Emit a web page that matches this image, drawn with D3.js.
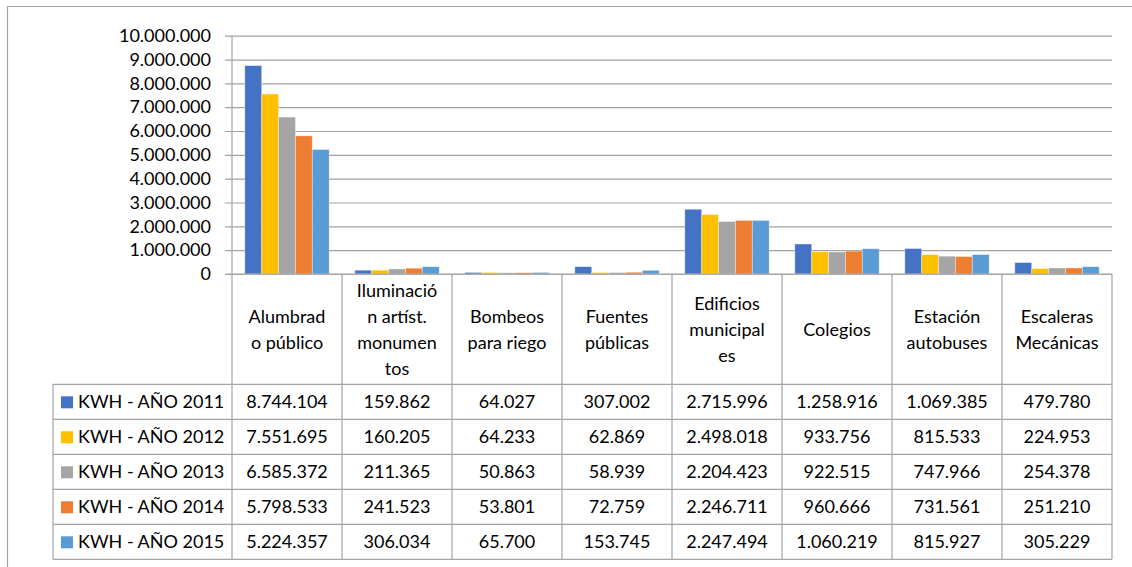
<!DOCTYPE html>
<html>
<head>
<meta charset="utf-8">
<script src="https://cdn.jsdelivr.net/npm/d3@7"></script>
<style>
  body { margin: 0; background: #fff; }
  text { font-family: Lato, "Open Sans", sans-serif; fill: #000; }
</style>
</head>
<body>
<div id="chart"></div>
<script>
// categories (header lines as wrapped in the table)
var categories = [
    ["Alumbrad", "o público"],
    ["Iluminació", "n artíst.", "monumen", "tos"],
    ["Bombeos", "para riego"],
    ["Fuentes", "públicas"],
    ["Edificios", "municipal", "es"],
    ["Colegios"],
    ["Estación", "autobuses"],
    ["Escaleras", "Mecánicas"]
];
var seriesNames = ["KWH - AÑO 2011", "KWH - AÑO 2012", "KWH - AÑO 2013", "KWH - AÑO 2014", "KWH - AÑO 2015"];
var colors = ["#4472C4", "#FFC000", "#A5A5A5", "#ED7D31", "#5B9BD5"];

var kwh2011 = [8744104, 159862, 64027, 307002, 2715996, 1258916, 1069385, 479780];
var kwh2012 = [7551695, 160205, 64233, 62869, 2498018, 933756, 815533, 224953];
var kwh2013 = [6585372, 211365, 50863, 58939, 2204423, 922515, 747966, 254378];
var kwh2014 = [5798533, 241523, 53801, 72759, 2246711, 960666, 731561, 251210];
var kwh2015 = [5224357, 306034, 65700, 153745, 2247494, 1060219, 815927, 305229];
var series = [kwh2011, kwh2012, kwh2013, kwh2014, kwh2015];

var yTicks = [0, 1000000, 2000000, 3000000, 4000000, 5000000, 6000000, 7000000, 8000000, 9000000, 10000000];

var W = 1132, H = 567;
var fontSize = 18;
var lineCol = "#a3a3a3";

var esLocale = d3.formatLocale({ decimal: ",", thousands: ".", grouping: [3], currency: ["", ""] });
var fmt = esLocale.format(",d");

var svg = d3.select("#chart").append("svg")
    .attr("width", W)
    .attr("height", H);

// outer chart border (top + left visible)
svg.append("path")
    .attr("d", "M7.5," + H + "V6.5H" + W)
    .attr("fill", "none")
    .attr("stroke", lineCol)
    .attr("stroke-width", 1.2);

var plotLeft = 232, plotRight = 1112, plotTop = 35.7, plotBottom = 274;
var headerBottom = 384.3, rowH = 35, legendLeft = 53;
var tableBottom = headerBottom + rowH * seriesNames.length;

var x = d3.scaleBand()
    .domain(d3.range(categories.length))
    .range([plotLeft, plotRight])
    .padding(0);

var xs = d3.scaleBand()
    .domain(d3.range(series.length))
    .range([0, x.bandwidth()])
    .paddingInner(0)
    .paddingOuter(0.76);

var y = d3.scaleLinear()
    .domain([0, 10000000])
    .range([plotBottom, plotTop]);

// gridlines + ticks + labels
var yAxis = svg.append("g")
    .attr("class", "axis axis--y")
    .attr("transform", "translate(" + plotRight + ",0)")
    .call(d3.axisLeft(y)
        .tickValues(yTicks)
        .tickSize(plotRight - plotLeft + 7)
        .tickPadding(14)
        .tickFormat(function (d) { return fmt(d); }));
yAxis.select(".domain").remove();
yAxis.selectAll(".tick line")
    .attr("stroke", lineCol)
    .attr("stroke-width", 1.2);
yAxis.selectAll(".tick text")
    .style("font-size", fontSize + "px")
    .style("font-family", "Lato, 'Open Sans', sans-serif")
    .attr("fill", "#000");

// bars
var group = svg.selectAll(".cat")
    .data(categories)
    .enter().append("g")
    .attr("class", "cat")
    .attr("transform", function (d, i) {
        return "translate(" + x(i) + ",0)";
    });

group.selectAll("rect")
    .data(function (d, i) {
        return series.map(function (s, j) {
            return { s: j, v: s[i] };
        });
    })
    .enter().append("rect")
    .attr("x", function (d) { return xs(d.s); })
    .attr("width", xs.bandwidth())
    .attr("y", function (d) { return y(d.v); })
    .attr("height", function (d) { return plotBottom - y(d.v); })
    .attr("fill", function (d) { return colors[d.s]; })
    .attr("stroke", "#fff")
    .attr("stroke-opacity", 0.45)
    .attr("stroke-width", 0.8);

// table lines
var grid = svg.append("g").attr("class", "table")
    .attr("stroke", lineCol)
    .attr("stroke-width", 1.2);

grid.append("line")
    .attr("x1", plotLeft - 7).attr("x2", plotRight)
    .attr("y1", plotBottom).attr("y2", plotBottom);

d3.range(seriesNames.length + 1).forEach(function (r) {
    var yy = headerBottom + r * rowH;
    grid.append("line")
        .attr("x1", legendLeft).attr("x2", plotRight)
        .attr("y1", yy).attr("y2", yy);
});

grid.append("line")
    .attr("x1", plotLeft).attr("x2", plotLeft)
    .attr("y1", plotTop).attr("y2", tableBottom);
grid.append("line")
    .attr("x1", legendLeft).attr("x2", legendLeft)
    .attr("y1", headerBottom).attr("y2", tableBottom);

d3.range(categories.length).forEach(function (i) {
    var xx = x(i) + x.bandwidth();
    grid.append("line")
        .attr("x1", xx).attr("x2", xx)
        .attr("y1", plotBottom).attr("y2", tableBottom);
});

// header labels
var lineH = 26;
var headerMid = (plotBottom + headerBottom) / 2;
categories.forEach(function (lines, i) {
    var t = svg.append("text")
        .attr("text-anchor", "middle")
        .style("font-size", fontSize + "px");
    lines.forEach(function (ln, k) {
        t.append("tspan")
            .attr("x", x(i) + x.bandwidth() / 2)
            .attr("y", headerMid + (k - (lines.length - 1) / 2) * lineH)
            .attr("dy", "0.36em")
            .text(ln);
    });
});

// data rows
seriesNames.forEach(function (name, r) {
    var cy = headerBottom + r * rowH + rowH / 2;
    svg.append("rect")
        .attr("x", 61).attr("y", cy - 5.5)
        .attr("width", 12).attr("height", 12)
        .attr("fill", colors[r]);
    svg.append("text")
        .attr("x", 78)
        .attr("y", cy)
        .attr("dy", "0.36em")
        .style("font-size", fontSize + "px")
        .text(name);
    series[r].forEach(function (v, i) {
        svg.append("text")
            .attr("x", x(i) + x.bandwidth() / 2)
            .attr("y", cy)
            .attr("dy", "0.36em")
            .attr("text-anchor", "middle")
            .style("font-size", fontSize + "px")
            .text(fmt(v));
    });
});
</script>
</body>
</html>
